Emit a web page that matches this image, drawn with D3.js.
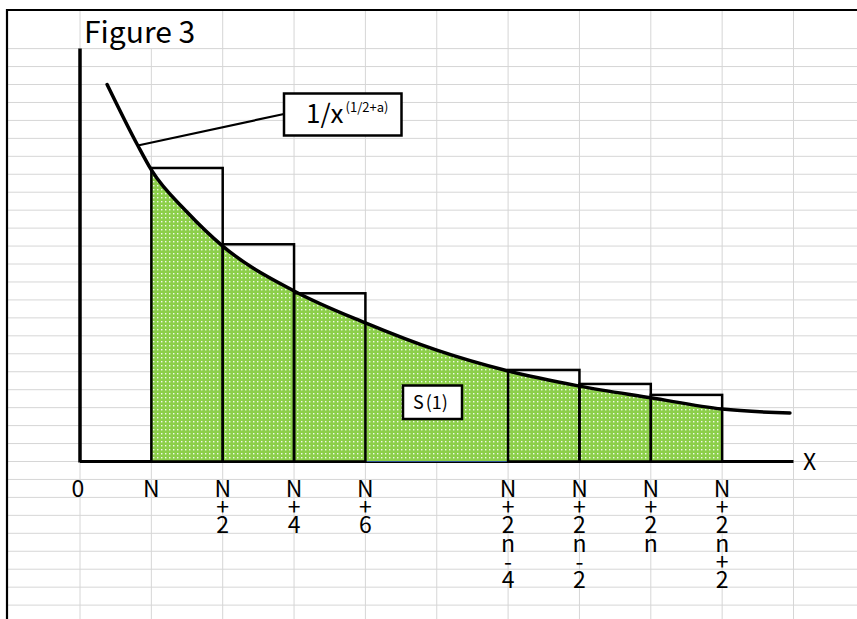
<!DOCTYPE html>
<html>
<head>
<meta charset="utf-8">
<title>Figure 3</title>
<style>
  body { margin: 0; background: #fff; }
  svg text { font-family: "Noto Sans CJK JP", "Noto Sans", sans-serif; fill: #000; }
</style>
<script src="https://d3js.org/d3.v7.min.js"></script>
</head>
<body>
<svg width="857" height="619"></svg>
<script>
// x in grid-column units (0 = origin, 1 = N, 2 = N+2, ...), y in grid-row units
var tickPos    = [0, 1, 2, 3, 4, 6, 7, 8, 9];
var tickLabels = ["0", "N", "N+2", "N+4", "N+6", "N+2n-4", "N+2n-2", "N+2n", "N+2n+2"];

var curveX = [0.38, 0.81, 1, 1.5, 2, 3, 4, 5, 6, 7, 8, 9, 9.95];
var curveY = [21.0, 17.6, 16.24, 13.9, 12.0, 9.5, 7.72, 6.2, 5.04, 4.2, 3.55, 2.92, 2.70];

var barLeft = [1, 2, 3, 6, 7, 8];
var barTop  = [16.35, 12.1, 9.37, 5.1, 4.32, 3.71];

var areaFrom = 1, areaTo = 9;

var svg = d3.select("svg"),
    W = +svg.attr("width"), H = +svg.attr("height");

var x = d3.scaleLinear().domain([0, 10]).range([80, 793.5]),
    y = d3.scaleLinear().domain([0, 23]).range([461.5, 48.6]),
    rowH = y(0) - y(1);

var defs = svg.append("defs");
var pat = defs.append("pattern")
    .attr("id", "dots")
    .attr("patternUnits", "userSpaceOnUse")
    .attr("width", 4).attr("height", 4);
pat.append("rect").attr("width", 4).attr("height", 4).attr("fill", "#8ccf4a");
pat.append("rect").attr("x", 1).attr("y", 1).attr("width", 1.4).attr("height", 1.4).attr("fill", "#f0faea");

defs.append("clipPath").attr("id", "areaClip")
  .append("rect")
    .attr("x", x(areaFrom)).attr("y", 0)
    .attr("width", x(areaTo) - x(areaFrom)).attr("height", y(0) + 1);

// spreadsheet grid
var grid = svg.append("g").attr("stroke", "#d6d6d6").attr("stroke-width", 1);
for (var k = 0; y(23) + k * rowH < H; k++) {
  var yy = y(23) + k * rowH;
  grid.append("line").attr("x1", 7).attr("x2", W).attr("y1", yy).attr("y2", yy);
}
d3.range(0, 12).forEach(function(i) {
  grid.append("line")
    .attr("x1", x(i)).attr("x2", x(i))
    .attr("y1", i == 1 ? y(23) : 10).attr("y2", H);
});

// sheet border
svg.append("path")
  .attr("d", `M7,${H} V10 H${W}`)
  .attr("fill", "none").attr("stroke", "#000").attr("stroke-width", 2.2);

var pts = curveX.map(function(v, i) { return [v, curveY[i]]; });

// axes
svg.append("line").attr("x1", x(0)).attr("x2", x(0)).attr("y1", y(23)).attr("y2", y(0) + 1)
  .attr("stroke", "#000").attr("stroke-width", 3.5);
svg.append("line").attr("x1", x(0)).attr("x2", x(10)).attr("y1", y(0)).attr("y2", y(0))
  .attr("stroke", "#000").attr("stroke-width", 3);

// shaded area under the curve
var area = d3.area()
  .x(function(d) { return x(d[0]); })
  .y0(y(0))
  .y1(function(d) { return y(d[1]); })
  .curve(d3.curveMonotoneX);
svg.append("path")
  .datum(pts)
  .attr("d", area)
  .attr("clip-path", "url(#areaClip)")
  .attr("fill", "url(#dots)")
  .attr("stroke", "#2f5597").attr("stroke-width", 1.2);

// upper rectangles
svg.selectAll(".bar")
  .data(barLeft)
  .enter().append("rect")
    .attr("class", "bar")
    .attr("x", function(d) { return x(d); })
    .attr("y", function(d, i) { return y(barTop[i]); })
    .attr("width", function(d) { return x(d + 1) - x(d); })
    .attr("height", function(d, i) { return y(0) - y(barTop[i]); })
    .attr("fill", "none").attr("stroke", "#000").attr("stroke-width", 2.5);

// the curve
var line = d3.line()
  .x(function(d) { return x(d[0]); })
  .y(function(d) { return y(d[1]); })
  .curve(d3.curveMonotoneX);
svg.append("path").datum(pts).attr("d", line)
  .attr("fill", "none").attr("stroke", "#000").attr("stroke-width", 3.5)
  .attr("stroke-linecap", "round");

// tick labels, written vertically one character per row
tickPos.forEach(function(p, i) {
  var chars = tickLabels[i].split("");
  var t = svg.append("text")
    .attr("text-anchor", "middle")
    .style("font-size", "23px");
  chars.forEach(function(c, j) {
    t.append("tspan")
      .attr("x", x(p) - (i == 0 ? 2 : 0))
      .attr("y", 497 + j * 18.2)
      .text(c);
  });
});

// axis name
svg.append("text").attr("x", 803).attr("y", 470).style("font-size", "23px").text("X");

// title
svg.append("text").attr("x", 84).attr("y", 43).style("font-size", "30px").text("Figure 3");

// callout for the curve
var anchor = pts[1];
svg.append("line")
  .attr("x1", x(anchor[0])).attr("y1", y(anchor[1]))
  .attr("x2", 284).attr("y2", 114)
  .attr("stroke", "#000").attr("stroke-width", 2.2);
svg.append("rect").attr("x", 284).attr("y", 93.5).attr("width", 117.5).attr("height", 42)
  .attr("fill", "#fff").attr("stroke", "#000").attr("stroke-width", 2.5);
var lab = svg.append("text").attr("x", 306).attr("y", 123).style("font-size", "26px");
lab.append("tspan").text("1/x");
lab.append("tspan").attr("dy", -11).attr("dx", 2).style("font-size", "13px").text("(1/2+a)");

// S(1) label
svg.append("rect").attr("x", 403).attr("y", 385.5).attr("width", 59).attr("height", 33.5)
  .attr("fill", "#fff").attr("stroke", "#000").attr("stroke-width", 2.5);
var s = svg.append("text").attr("x", 413).attr("y", 409).style("font-size", "18px");
s.append("tspan").text("S");
s.append("tspan").attr("dx", 2).text("(1)");
</script>
</body>
</html>
